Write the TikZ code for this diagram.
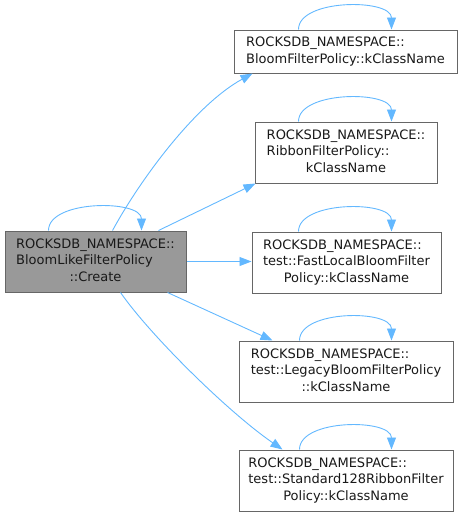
\documentclass[tikz,border=0pt]{standalone}
\usepackage{fontspec}
\setmainfont{DejaVu Sans}
\usetikzlibrary{arrows.meta}
\definecolor{edgeblue}{HTML}{63B8FF}
\definecolor{boxborder}{HTML}{666666}
\definecolor{mainfill}{HTML}{999999}
\newcommand\dxthree[3]{\begin{tabular}{@{}l@{}}#1\\#2\\\multicolumn{1}{@{}c@{}}{#3}\end{tabular}}
\newcommand\dxtwo[2]{\begin{tabular}{@{}l@{}}#1\\#2\end{tabular}}
\begin{document}
\begin{tikzpicture}[x=1pt,y=-1pt,
  box/.style={draw=boxborder, line width=1pt, fill=white, inner sep=0pt,
    minimum height=61pt, text=black!90, font=\fontsize{13}{16.5}\selectfont},
  mainbox/.style={box, fill=mainfill},
  edge/.style={draw=edgeblue, line width=0.9pt, -{Triangle[length=12pt,width=9pt]}}]
\useasboundingbox (0,0) rectangle (463,517);

\node[mainbox, minimum width=181pt] (main) at (95.5,261.5)
  {\dxthree{ROCKSDB\_NAMESPACE::}{BloomLikeFilterPolicy}{::Create}};
\node[box, minimum width=223pt, minimum height=43pt] (a) at (345.5,51.5)
  {\dxtwo{ROCKSDB\_NAMESPACE::}{BloomFilterPolicy::kClassName}};
\node[box, minimum width=182pt] (b) at (346,152.5)
  {\dxthree{ROCKSDB\_NAMESPACE::}{RibbonFilterPolicy::}{kClassName}};
\node[box, minimum width=189pt] (c) at (346.5,262.5)
  {\dxthree{ROCKSDB\_NAMESPACE::}{test::FastLocalBloomFilter}{Policy::kClassName}};
\node[box, minimum width=214pt] (d) at (346,371.5)
  {\dxthree{ROCKSDB\_NAMESPACE::}{test::LegacyBloomFilterPolicy}{::kClassName}};
\node[box, minimum width=214pt] (e) at (346,480.5)
  {\dxthree{ROCKSDB\_NAMESPACE::}{test::Standard128RibbonFilter}{Policy::kClassName}};

% self loops
\draw[edge] ([xshift=44pt]main.north west) .. controls +(0,-31) and +(0,-31) .. ([xshift=137pt]main.north west);
\draw[edge] ([xshift=65pt]a.north west) .. controls +(0,-31) and +(0,-31) .. ([xshift=158pt]a.north west);
\draw[edge] ([xshift=44pt]b.north west) .. controls +(0,-31) and +(0,-31) .. ([xshift=137pt]b.north west);
\draw[edge] ([xshift=47pt]c.north west) .. controls +(0,-31) and +(0,-31) .. ([xshift=140pt]c.north west);
\draw[edge] ([xshift=61pt]d.north west) .. controls +(0,-31) and +(0,-31) .. ([xshift=153pt]d.north west);
\draw[edge] ([xshift=61pt]e.north west) .. controls +(0,-31) and +(0,-31) .. ([xshift=153pt]e.north west);

% calls
\draw[edge] ([xshift=108pt]main.north west) .. controls (140,180) and (195,105) .. ([xshift=19pt]a.south west);
\draw[edge] ([xshift=154pt]main.north west) -- ([xshift=1pt]b.south west);
\draw[edge] (main.east) -- (c.west |- main.east);
\draw[edge] ([xshift=163pt]main.south west) -- ([xshift=34pt]d.north west);
\draw[edge] ([xshift=116pt]main.south west) .. controls (150,335) and (228,412) .. ([xshift=44pt]e.north west);
\end{tikzpicture}
\end{document}
